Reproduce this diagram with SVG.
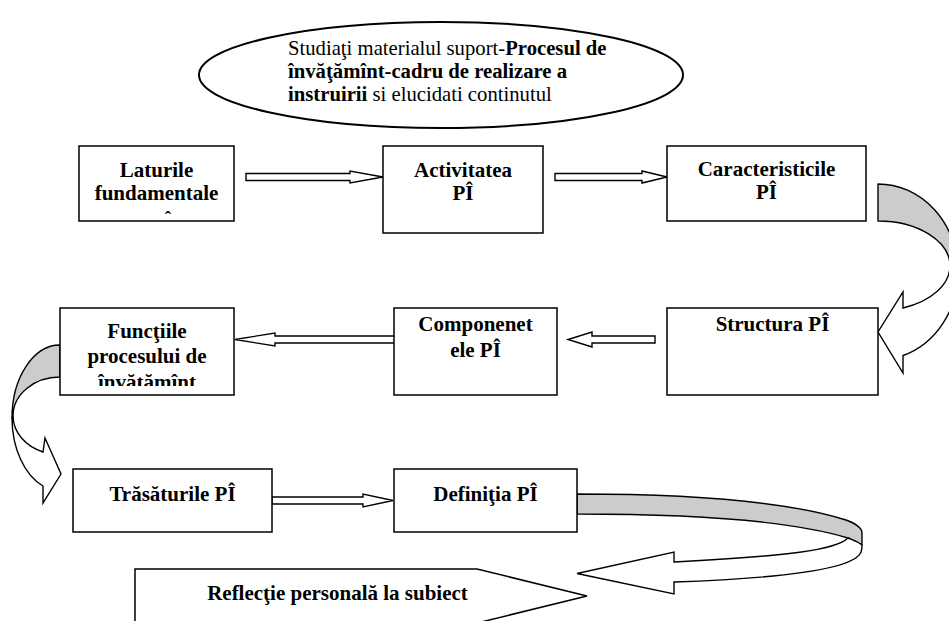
<svg xmlns="http://www.w3.org/2000/svg" width="949" height="621" viewBox="0 0 949 621">
  <style>
    .box { fill: #ffffff; stroke: #000000; stroke-width: 1.5; }
    .oval { fill: #ffffff; stroke: #000000; stroke-width: 2; }
    .arrow { fill: #ffffff; stroke: #000000; stroke-width: 1.4; stroke-linejoin: miter; }
    .back { fill: #cccccc; stroke: #000000; stroke-width: 1.4; stroke-linejoin: round; }
    .front { fill: #ffffff; stroke: #000000; stroke-width: 1.4; stroke-linejoin: miter; }
    .lbl { font-family: "Liberation Serif", "Times New Roman", serif; font-size: 21px; font-weight: bold; fill: #000000; text-anchor: middle; }
    .note { font-family: "Liberation Serif", "Times New Roman", serif; font-size: 20.7px; fill: #000000; }
    .b { font-weight: bold; }
  </style>
  <defs>
    <clipPath id="clip-functii">
      <rect x="60" y="300" width="174" height="86"/>
    </clipPath>
  </defs>

  <rect width="949" height="621" fill="#ffffff"/>

  <!-- task note in the oval -->
  <g id="note">
    <ellipse class="oval" cx="441" cy="75" rx="242" ry="53"/>
    <text class="note" x="288" y="55">Studiaţi materialul suport-<tspan class="b">Procesul de</tspan></text>
    <text class="note b" x="288" y="78">învăţămînt-cadru de realizare a</text>
    <text class="note" x="288" y="101"><tspan class="b">instruirii</tspan> si elucidati continutul</text>
  </g>

  <!-- connectors -->
  <g id="connectors">
    <!-- straight block arrows -->
    <path class="arrow" d="M246,173.5 L350,173.5 L350,171 L383,177 L350,183 L350,180.5 L246,180.5 Z"/>
    <path class="arrow" d="M555,173.5 L642,173.5 L642,171 L667,177 L642,183 L642,180.5 L555,180.5 Z"/>
    <path class="arrow" d="M655,336 L592,336 L592,332 L568,339.5 L592,347 L592,343 L655,343 Z"/>
    <path class="arrow" d="M395,336 L275,336 L275,333 L235,339.5 L275,346 L275,343 L395,343 Z"/>
    <path class="arrow" d="M272,497 L363,497 L363,494 L393,500.5 L363,507 L363,504 L272,504 Z"/>

    <!-- curved arrow: Caracteristicile -> Structura -->
    <path class="back" d="M878,184 A80,88 0 0 1 958,272 L950,266 A72,45 0 0 0 878,221 Z"/>
    <path class="front" d="M950,266 A72,45 0 0 1 903,308 L903,292 L878,332 L903,373 L903,355.5 A80,88 0 0 0 958,272 Z"/>

    <!-- curved arrow: Funcţiile -> Trăsăturile -->
    <path class="back" d="M60,345 A48,73 0 0 0 12,418 L13,416 A47,39 0 0 1 60,377 Z"/>
    <path class="front" d="M13,416 A47,39 0 0 0 43,452 L45,438 L61,474 L43,503 L43,486 A48,73 0 0 1 12,418 Z"/>

    <!-- curved arrow: Definiţia -> Reflecţie -->
    <path class="back" d="M577,494 C694,494 789,502 846,520 C857,524 862,528 862,533 L862,545 C857,541 853,540 848,538 C789,520 694,514 577,514 Z"/>
    <path class="front" d="M848,538 C836,550 789,556 674,562 L674,552 L577,573.5 L674,594 L674,582 C789,578 855,568 861,552 C862,549 862,547 862,545 C857,541 853,540 848,538 Z"/>
  </g>

  <!-- nodes -->
  <g id="laturile">
    <rect class="box" x="79" y="146" width="155" height="75"/>
    <text class="lbl" x="156.5" y="177">Laturile</text>
    <text class="lbl" x="156.5" y="200">fundamentale</text>
    <text class="lbl" x="168" y="224" style="font-size:19px">ˆ</text>
  </g>
  <g id="activitatea">
    <rect class="box" x="383" y="146" width="160" height="87"/>
    <text class="lbl" x="463" y="177">Activitatea</text>
    <text class="lbl" x="463" y="200">PÎ</text>
  </g>
  <g id="caracteristicile">
    <rect class="box" x="667" y="146" width="199" height="75"/>
    <text class="lbl" x="766.5" y="176">Caracteristicile</text>
    <text class="lbl" x="766.5" y="199">PÎ</text>
  </g>
  <g id="structura">
    <rect class="box" x="667" y="308" width="211" height="87"/>
    <text class="lbl" x="772.5" y="331">Structura PÎ</text>
  </g>
  <g id="componenetele">
    <rect class="box" x="394" y="308" width="163" height="87"/>
    <text class="lbl" x="475.5" y="331">Componenet</text>
    <text class="lbl" x="475.5" y="357">ele PÎ</text>
  </g>
  <g id="functiile">
    <rect class="box" x="60" y="308" width="174" height="87"/>
    <text class="lbl" x="147" y="338">Funcţiile</text>
    <text class="lbl" x="147" y="363">procesului de</text>
    <text class="lbl" x="147" y="389" clip-path="url(#clip-functii)">învăţămînt</text>
  </g>
  <g id="trasaturile">
    <rect class="box" x="73" y="469" width="199" height="63"/>
    <text class="lbl" x="172.5" y="501">Trăsăturile PÎ</text>
  </g>
  <g id="definitia">
    <rect class="box" x="394" y="469" width="183" height="63"/>
    <text class="lbl" x="485.5" y="501">Definiţia PÎ</text>
  </g>
  <g id="reflectie">
    <path class="box" d="M135,624 L135,569 L477,569 L587,596 L477,623 Z"/>
    <text class="lbl" x="337.5" y="600">Reflecţie personală la subiect</text>
  </g>
</svg>
